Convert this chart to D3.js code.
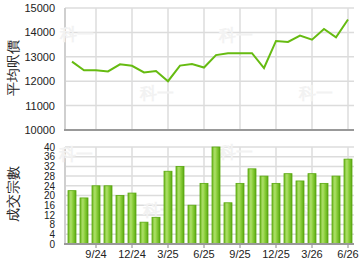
<!DOCTYPE html>
<html>
<head>
<meta charset="utf-8">
<script src="https://cdn.jsdelivr.net/npm/d3@7"></script>
<style>
  body { margin: 0; background: #fff; }
  svg text { font-family: 'Liberation Sans', Arial, sans-serif; }
</style>
</head>
<body>
<div id="chart"></div>
<script>
// monthly data, 7/24 .. 6/26
const months = ['7/24','8/24','9/24','10/24','11/24','12/24','1/25','2/25','3/25','4/25','5/25','6/25',
  '7/25','8/25','9/25','10/25','11/25','12/25','1/26','2/26','3/26','4/26','5/26','6/26']
const avgPrice = [12800, 12450, 12450, 12400, 12690, 12630, 12360, 12420, 12000, 12640, 12700, 12560,
  13070, 13150, 13150, 13150, 12540, 13650, 13610, 13870, 13700, 14140, 13800, 14530]
const deals = [22, 19, 24, 24, 20, 21, 9, 11, 30, 32, 16, 25,
  40, 17, 25, 31, 28, 25, 29, 26, 29, 25, 28, 35]
const tickMonths = ['9/24','12/24','3/25','6/25','9/25','12/25','3/26','6/26']
const priceTicks = [10000, 11000, 12000, 13000, 14000, 15000]
const dealTicks = d3.range(0, 41, 4)

const width = 360, height = 270
const svg = d3.select('#chart').append('svg')
  .attr('width', width).attr('height', height)

const x = d3.scaleBand().domain(months).range([66, 354])
const xc = m => x(m) + x.bandwidth() / 2

const yTop = d3.scaleLinear().domain([10000, 15000]).range([130, 8])
const yBot = d3.scaleLinear().domain([0, 40]).range([244, 147])

// gradient for bars
const grad = svg.append('defs').append('linearGradient').attr('id', 'barGrad')
  .attr('x1', '0%').attr('x2', '100%').attr('y1', '0%').attr('y2', '0%')
grad.append('stop').attr('offset', '0%').attr('stop-color', '#6db81f')
grad.append('stop').attr('offset', '35%').attr('stop-color', '#aee06a')
grad.append('stop').attr('offset', '60%').attr('stop-color', '#8ccf3c')
grad.append('stop').attr('offset', '100%').attr('stop-color', '#5aa811')

function drawFrame(y, ticks, top, bottom) {
  const g = svg.append('g')
  // horizontal grid
  g.selectAll('line.h').data(ticks).join('line')
    .attr('x1', 65).attr('x2', 354)
    .attr('y1', d => y(d)).attr('y2', d => y(d))
    .attr('stroke', '#dcdcdc').attr('stroke-width', 1.5)
  // vertical grid
  g.selectAll('line.v').data(tickMonths).join('line')
    .attr('x1', d => xc(d)).attr('x2', d => xc(d))
    .attr('y1', top).attr('y2', bottom)
    .attr('stroke', '#dcdcdc').attr('stroke-width', 1.5)
  // left line
  g.append('line').attr('x1', 65).attr('x2', 65).attr('y1', top).attr('y2', bottom)
    .attr('stroke', '#cfcfcf').attr('stroke-width', 2)
  return g
}

function watermark(pts) {
  svg.append('g').selectAll('text').data(pts).join('text')
    .attr('x', d => d[0]).attr('y', d => d[1])
    .attr('text-anchor', 'middle')
    .attr('font-family', "'Noto Sans CJK TC', sans-serif")
    .attr('font-weight', 'bold').attr('font-size', 17)
    .attr('fill', '#f2f2f2')
    .text('科一')
}

// ---- top chart: average price
drawFrame(yTop, priceTicks, 8, 130)
watermark([[77, 40], [157, 99], [236, 41], [316, 99]])

const line = d3.line().x(d => xc(d.m)).y(d => yTop(d.v))
svg.append('path')
  .datum(months.map((m, i) => ({ m, v: avgPrice[i] })))
  .attr('d', line)
  .attr('fill', 'none').attr('stroke', '#66bb11').attr('stroke-width', 2)

svg.append('line').attr('x1', 64).attr('x2', 354).attr('y1', 130).attr('y2', 130)
  .attr('stroke', '#999').attr('stroke-width', 2)

const yAxisTop = svg.append('g').attr('transform', 'translate(55,0)')
  .call(d3.axisLeft(yTop).tickValues(priceTicks).tickFormat(d3.format('d')).tickSize(0).tickPadding(0))
yAxisTop.select('.domain').remove()
yAxisTop.selectAll('text').attr('font-size', 11).attr('fill', '#222')
  .attr('font-family', "'Liberation Sans', Arial, sans-serif")

// ---- bottom chart: number of deals
drawFrame(yBot, dealTicks, 147, 244)
watermark([[76, 160], [160, 216], [236, 158], [316, 216]])

svg.append('g').selectAll('rect').data(deals).join('rect')
  .attr('x', (d, i) => xc(months[i]) - 4)
  .attr('width', 8)
  .attr('y', d => yBot(d))
  .attr('height', d => yBot(0) - yBot(d))
  .attr('fill', 'url(#barGrad)')
  .attr('stroke', '#5aa80f').attr('stroke-width', 0.8)

const xAxis = svg.append('g').attr('transform', 'translate(0,244)')
  .call(d3.axisBottom(x).tickValues(tickMonths).tickSize(4).tickPadding(2))
xAxis.select('.domain').remove()
xAxis.selectAll('line').attr('stroke', '#888')
xAxis.selectAll('text').attr('font-size', 11).attr('fill', '#222')
  .attr('font-family', "'Liberation Sans', Arial, sans-serif")

svg.append('line').attr('x1', 64).attr('x2', 354).attr('y1', 244).attr('y2', 244)
  .attr('stroke', '#999').attr('stroke-width', 2)

const yAxisBot = svg.append('g').attr('transform', 'translate(55,0)')
  .call(d3.axisLeft(yBot).tickValues(dealTicks).tickSize(0).tickPadding(0))
yAxisBot.select('.domain').remove()
yAxisBot.selectAll('text').attr('font-size', 10).attr('fill', '#222')
  .attr('font-family', "'Liberation Sans Narrow', 'Liberation Sans', Arial, sans-serif")

// axis titles
svg.append('text')
  .attr('transform', 'translate(18,68) rotate(-90)')
  .attr('text-anchor', 'middle')
  .attr('font-family', "'Noto Sans CJK TC', sans-serif")
  .attr('font-size', 14).attr('fill', '#222')
  .text('平均呎價')
svg.append('text')
  .attr('transform', 'translate(18,194) rotate(-90)')
  .attr('text-anchor', 'middle')
  .attr('font-family', "'Noto Sans CJK TC', sans-serif")
  .attr('font-size', 14).attr('fill', '#222')
  .text('成交宗數')
</script>
</body>
</html>
